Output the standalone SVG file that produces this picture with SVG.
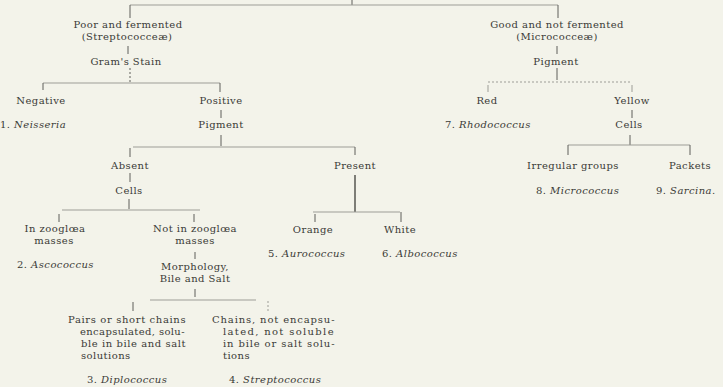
<svg xmlns="http://www.w3.org/2000/svg" width="723" height="387" viewBox="0 0 723 387">
<style>
text{font-family:"DejaVu Serif","Liberation Serif",serif;font-size:10px;letter-spacing:0.45px;fill:#3a3a36}
.c{text-anchor:middle}
.i{font-style:italic}
#connectors line{stroke:#5f5f5a;stroke-width:1;fill:none}
#connectors .f{stroke:#9d9d97}
#connectors .d{stroke-dasharray:2 2}
#connectors .t{stroke-width:1.6}
</style>
<rect width="723" height="387" fill="#f3f3ea"/>
<g id="connectors">
<line x1="352" y1="0" x2="352" y2="5"/>
<line x1="130" y1="5" x2="558" y2="5" class="f"/>
<line x1="130" y1="5" x2="130" y2="18"/>
<line x1="558" y1="5" x2="558" y2="18"/>
<line x1="128" y1="46" x2="128" y2="54"/>
<line x1="130" y1="68" x2="130" y2="82" class="d"/>
<line x1="43" y1="83" x2="220" y2="83" class="f"/>
<line x1="43" y1="83" x2="43" y2="90"/>
<line x1="220" y1="83" x2="220" y2="92"/>
<line x1="221" y1="110" x2="221" y2="118"/>
<line x1="221" y1="135" x2="221" y2="146"/>
<line x1="133" y1="147" x2="355" y2="147" class="f"/>
<line x1="130" y1="148" x2="130" y2="157"/>
<line x1="355" y1="147" x2="355" y2="155"/>
<line x1="130" y1="173" x2="130" y2="182"/>
<line x1="355" y1="175" x2="355" y2="212" class="t"/>
<line x1="129" y1="199" x2="129" y2="209"/>
<line x1="62" y1="210" x2="200" y2="210" class="f"/>
<line x1="59" y1="214" x2="59" y2="222"/>
<line x1="194" y1="214" x2="194" y2="222"/>
<line x1="313" y1="212" x2="400" y2="212" class="f"/>
<line x1="315" y1="214" x2="315" y2="222"/>
<line x1="401" y1="212" x2="401" y2="222"/>
<line x1="195" y1="252" x2="195" y2="259"/>
<line x1="195" y1="289" x2="195" y2="297"/>
<line x1="150" y1="300" x2="256" y2="300" class="f"/>
<line x1="133" y1="302" x2="133" y2="311"/>
<line x1="268" y1="301" x2="268" y2="311" class="d f"/>
<line x1="557" y1="46" x2="557" y2="54"/>
<line x1="557" y1="68" x2="557" y2="80"/>
<line x1="488" y1="82" x2="632" y2="82" class="f d"/>
<line x1="488" y1="85" x2="488" y2="92" class="f"/>
<line x1="632" y1="85" x2="632" y2="92" class="f"/>
<line x1="632" y1="110" x2="632" y2="118"/>
<line x1="630" y1="135" x2="630" y2="145"/>
<line x1="568" y1="145" x2="690" y2="145" class="f"/>
<line x1="568" y1="145" x2="568" y2="155"/>
<line x1="690" y1="145" x2="690" y2="155"/>
</g>
<g id="streptococceae"><text class="c" x="128" y="28">Poor and fermented</text><text class="c" x="127" y="40">(Streptococceæ)</text></g>
<g id="grams-stain"><text class="c" x="126" y="65">Gram's Stain</text></g>
<g id="negative"><text class="c" x="41" y="104">Negative</text></g>
<g id="neisseria"><text x="0" y="128">1. <tspan class="i">Neisseria</tspan></text></g>
<g id="positive"><text class="c" x="221" y="104">Positive</text></g>
<g id="pigment-left"><text class="c" x="221" y="128">Pigment</text></g>
<g id="absent"><text class="c" x="130" y="169">Absent</text></g>
<g id="cells-left"><text class="c" x="129" y="194">Cells</text></g>
<g id="present"><text class="c" x="355" y="169">Present</text></g>
<g id="in-zooglea"><text class="c" x="55" y="232">In zooglœa</text><text class="c" x="54" y="244">masses</text></g>
<g id="ascococcus"><text x="17" y="268">2. <tspan class="i">Ascococcus</tspan></text></g>
<g id="not-in-zooglea"><text class="c" x="195" y="232">Not in zooglœa</text><text class="c" x="195" y="244">masses</text></g>
<g id="morphology"><text class="c" x="195" y="270">Morphology,</text><text class="c" x="195" y="282">Bile and Salt</text></g>
<g id="pairs"><text x="68" y="323" textLength="118" lengthAdjust="spacing">Pairs or short chains</text><text x="80" y="335" textLength="105" lengthAdjust="spacing">encapsulated, solu-</text><text x="81" y="347" textLength="105" lengthAdjust="spacing">ble in bile and salt</text><text x="81" y="359">solutions</text></g>
<g id="diplococcus"><text x="87" y="383">3. <tspan class="i">Diplococcus</tspan></text></g>
<g id="chains"><text x="212" y="323" textLength="123" lengthAdjust="spacing">Chains, not encapsu-</text><text x="223" y="335" textLength="111" lengthAdjust="spacing">lated, not soluble</text><text x="223" y="347" textLength="112" lengthAdjust="spacing">in bile or salt solu-</text><text x="223" y="359">tions</text></g>
<g id="streptococcus"><text x="229" y="383">4. <tspan class="i">Streptococcus</tspan></text></g>
<g id="orange"><text class="c" x="313" y="233">Orange</text></g>
<g id="aurococcus"><text x="268" y="257">5. <tspan class="i">Aurococcus</tspan></text></g>
<g id="white"><text class="c" x="400" y="233">White</text></g>
<g id="albococcus"><text x="382" y="257">6. <tspan class="i">Albococcus</tspan></text></g>
<g id="micrococceae"><text class="c" x="557" y="28">Good and not fermented</text><text class="c" x="557" y="40">(Micrococceæ)</text></g>
<g id="pigment-right"><text class="c" x="556" y="65">Pigment</text></g>
<g id="red"><text class="c" x="487" y="104">Red</text></g>
<g id="rhodococcus"><text x="445" y="128">7. <tspan class="i">Rhodococcus</tspan></text></g>
<g id="yellow"><text class="c" x="632" y="104">Yellow</text></g>
<g id="cells-right"><text class="c" x="629" y="128">Cells</text></g>
<g id="irregular"><text class="c" x="573" y="169">Irregular groups</text></g>
<g id="micrococcus"><text x="536" y="194">8. <tspan class="i">Micrococcus</tspan></text></g>
<g id="packets"><text class="c" x="690" y="169">Packets</text></g>
<g id="sarcina"><text x="656" y="194">9. <tspan class="i">Sarcina.</tspan></text></g>
</svg>
